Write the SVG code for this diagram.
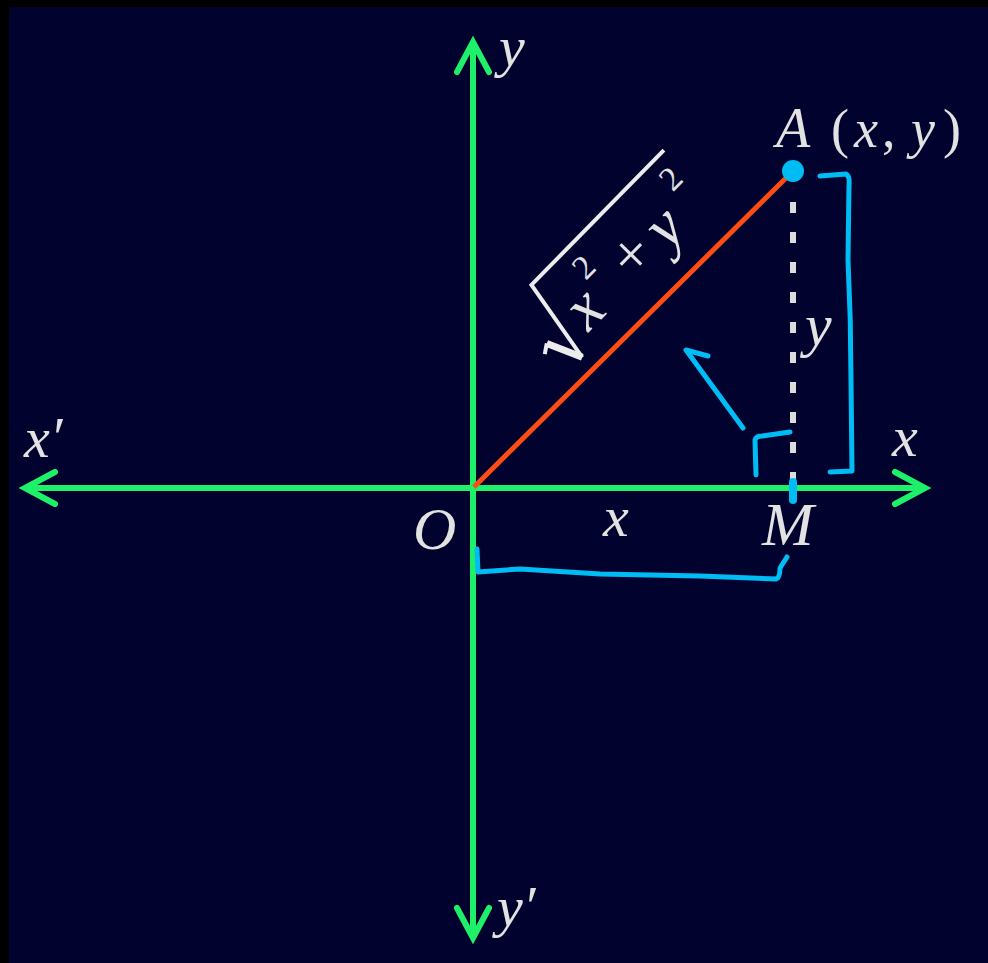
<svg xmlns="http://www.w3.org/2000/svg" width="988" height="963" viewBox="0 0 988 963">
<defs>
<style>
.lbl{font-family:"Liberation Serif","Times New Roman",serif;fill:#e2e2e2;font-style:italic;}
.up{font-style:normal;}
.axis{stroke:#1ef06a;stroke-width:6;fill:none;}
.ink{stroke:#00bcf5;stroke-width:5;fill:none;stroke-linecap:round;stroke-linejoin:round;}
</style>
<marker id="chev" markerUnits="userSpaceOnUse" viewBox="-34 -20 40 40" markerWidth="40" markerHeight="40" refX="0" refY="0" orient="auto-start-reverse">
<path d="M-30,-16 L0,0 L-30,16" fill="none" stroke="#1ef06a" stroke-width="6" stroke-linecap="round"/>
</marker>
</defs>
<rect width="988" height="963" fill="#000"/>
<rect x="9" y="7" width="979" height="956" fill="#01022e"/>

<g id="connectors">
<line id="x-axis" class="axis" x1="25" y1="488" x2="925" y2="488" marker-start="url(#chev)" marker-end="url(#chev)"/>
<line id="y-axis" class="axis" x1="473" y1="42" x2="473" y2="938" marker-start="url(#chev)" marker-end="url(#chev)"/>
<line id="OA" x1="474" y1="487" x2="790" y2="174" stroke="#ff4b14" stroke-width="5"/>
<line id="AM" x1="793" y1="202" x2="793" y2="488" stroke="#dcdcdc" stroke-width="6" stroke-dasharray="11 19"/>
</g>

<g id="node-A">
<circle cx="793" cy="171" r="11" fill="#00bcf5"/>
<text class="lbl" x="776" y="147" font-size="56">A</text>
<text class="lbl up" x="831" y="147" font-size="54">(</text>
<text class="lbl" x="854" y="147" font-size="54">x</text>
<text class="lbl up" x="882" y="147" font-size="54">,</text>
<text class="lbl" x="911" y="147" font-size="54">y</text>
<text class="lbl up" x="943" y="147" font-size="54">)</text>
</g>

<g id="labels">
<text class="lbl" x="499" y="66" font-size="58">y</text>
<text class="lbl" x="497" y="926" font-size="58">y′</text>
<text class="lbl" x="24" y="457" font-size="58">x′</text>
<text class="lbl" x="892" y="456" font-size="58">x</text>
<text class="lbl" x="413" y="549" font-size="60">O</text>
<text class="lbl" x="603" y="536" font-size="58">x</text>
<text class="lbl" x="762" y="545" font-size="62">M</text>
<text class="lbl" x="805" y="345" font-size="60">y</text>
</g>

<g id="radical" transform="translate(583,358) rotate(-45.5)">
<path d="M-24,-30 L-15,-36" stroke="#ececec" stroke-width="4" fill="none"/>
<path d="M-15,-36 L0,-1" stroke="#ececec" stroke-width="7" fill="none"/>
<path d="M0,-1 L16,-88 L205,-88" stroke="#ececec" stroke-width="4" fill="none" stroke-linejoin="miter"/>
<text class="lbl" x="22" y="-14" font-size="64">x</text>
<text class="lbl up" x="57" y="-52" font-size="34">2</text>
<text class="lbl up" x="90" y="-18" font-size="62">+</text>
<text class="lbl" x="136" y="-14" font-size="64">y</text>
<text class="lbl up" x="181" y="-52" font-size="34">2</text>
</g>

<g id="annotations">
<path class="ink" d="M820,176 L846,174 Q850,176 849,186 L848,260 Q851,320 851,380 L852,471 L830,472"/>
<path class="ink" d="M477,549 L478,572 L520,569 L600,574 L700,576 L776,579 Q780,578 780,568 L787,557"/>
<path class="ink" d="M756,475 L755,440 Q756,436 762,436 L790,432"/>
<path class="ink" d="M743,428 L686,350 L708,356"/>
<line x1="793" y1="482" x2="793" y2="500" stroke="#00bcf5" stroke-width="8" stroke-linecap="round"/>
</g>
</svg>
